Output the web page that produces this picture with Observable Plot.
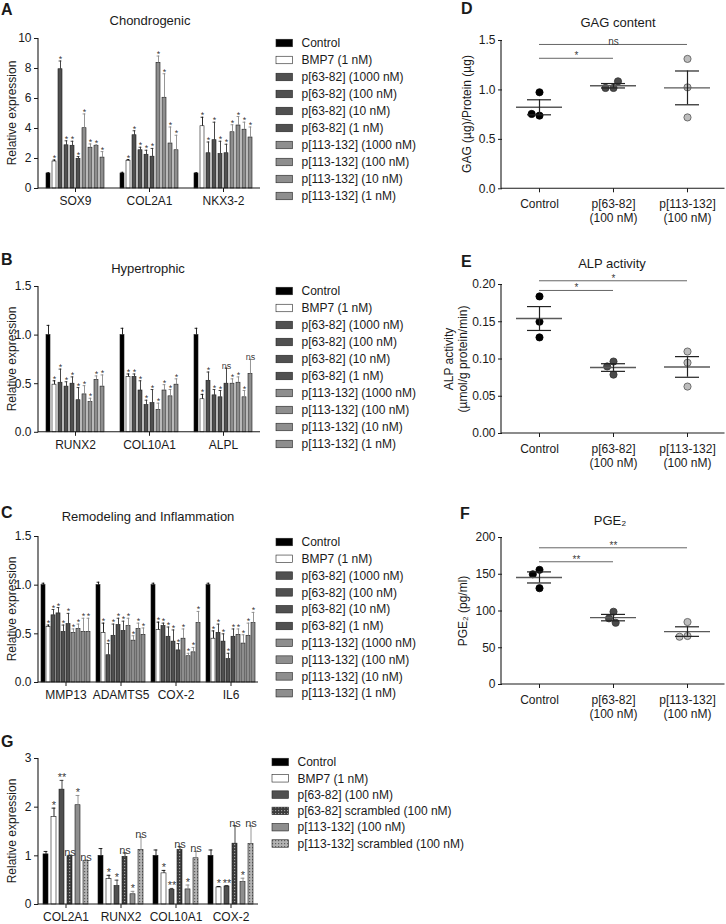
<!DOCTYPE html>
<html><head><meta charset="utf-8">
<script src="https://cdn.jsdelivr.net/npm/d3@7"></script>
<script src="https://cdn.jsdelivr.net/npm/@observablehq/plot@0.6"></script>
<style>
body{margin:0;background:#fff;}
#fig{position:relative;width:726px;height:924px;font-family:Arial,"Liberation Sans",Helvetica,sans-serif;color:#1a1a1a;overflow:hidden;background:#fff}
.letter{position:absolute;font-weight:bold;font-size:16px;line-height:1}
.title{position:absolute;font-size:13px;transform:translate(-50%,-50%);white-space:nowrap;line-height:1}
.ylab{position:absolute;font-size:12px;transform:translate(-50%,-50%) rotate(-90deg);white-space:pre;line-height:14px;text-align:center}
</style></head><body><div id="fig"></div>
<script>
// ---------------- DATA ----------------
const seriesDose = ["Control","BMP7 (1 nM)","p[63-82] (1000 nM)","p[63-82] (100 nM)","p[63-82] (10 nM)","p[63-82] (1 nM)","p[113-132] (1000 nM)","p[113-132] (100 nM)","p[113-132] (10 nM)","p[113-132] (1 nM)"];

const genesA = ["SOX9","COL2A1","NKX3-2"];
const valuesA = [
  [1.0, 1.80, 7.95, 2.88, 2.85, 1.98, 4.02, 2.72, 2.83, 2.06],
  [1.0, 1.85, 3.55, 2.55, 2.25, 2.12, 8.38, 6.05, 3.00, 2.55],
  [1.0, 4.15, 2.35, 3.22, 2.30, 2.35, 3.75, 4.20, 3.92, 3.40]
];
const errorsA = [
  [0.05, 0.10, 0.55, 0.30, 0.30, 0.15, 0.95, 0.25, 0.08, 0.40],
  [0.08, 0.08, 0.30, 0.20, 0.30, 0.55, 0.45, 1.60, 1.10, 1.00],
  [0.05, 0.60, 0.75, 1.20, 0.85, 0.60, 0.50, 0.60, 0.50, 0.70]
];
const sigA = [
  ["","*","*","*","*","*","*","*","*","*"],
  ["","*","*","*","*","*","*","*","*","*"],
  ["","*","*","*","*","*","*","*","*","*"]
];

const genesB = ["RUNX2","COL10A1","ALPL"];
const valuesB = [
  [1.0, 0.49, 0.51, 0.47, 0.50, 0.33, 0.39, 0.31, 0.54, 0.47],
  [1.0, 0.57, 0.57, 0.43, 0.28, 0.30, 0.23, 0.43, 0.37, 0.49],
  [1.0, 0.34, 0.53, 0.38, 0.36, 0.50, 0.50, 0.51, 0.36, 0.60]
];
const errorsB = [
  [0.10, 0.04, 0.14, 0.05, 0.07, 0.13, 0.09, 0.04, 0.04, 0.12],
  [0.07, 0.03, 0.03, 0.10, 0.05, 0.14, 0.07, 0.06, 0.07, 0.06],
  [0.07, 0.05, 0.09, 0.06, 0.07, 0.16, 0.05, 0.06, 0.07, 0.15]
];
const sigB = [
  ["","*","*","*","*","*","*","*","*","*"],
  ["","*","*","*","*","*","*","*","*","*"],
  ["","*","*","*","*","ns","*","*","*","ns"]
];

const genesC = ["MMP13","ADAMTS5","COX-2","IL6"];
const valuesC = [
  [1.0, 0.57, 0.69, 0.71, 0.52, 0.60, 0.51, 0.55, 0.52, 0.52],
  [1.0, 0.51, 0.28, 0.48, 0.59, 0.53, 0.58, 0.43, 0.55, 0.49],
  [1.0, 0.54, 0.58, 0.47, 0.42, 0.33, 0.45, 0.27, 0.31, 0.61],
  [1.0, 0.45, 0.51, 0.42, 0.24, 0.47, 0.49, 0.40, 0.48, 0.61]
];
const errorsC = [
  [0.02, 0.02, 0.06, 0.06, 0.07, 0.11, 0.04, 0.05, 0.14, 0.14],
  [0.03, 0.10, 0.12, 0.12, 0.07, 0.10, 0.08, 0.05, 0.06, 0.07],
  [0.02, 0.08, 0.03, 0.10, 0.12, 0.07, 0.10, 0.03, 0.05, 0.12],
  [0.02, 0.08, 0.09, 0.08, 0.06, 0.08, 0.06, 0.09, 0.13, 0.11]
];
const sigC = [
  ["","*","*","*","*","*","*","*","*","*"],
  ["","*","*","*","*","*","*","*","*","*"],
  ["","*","*","*","*","*","*","*","*","*"],
  ["","*","*","*","*","*","*","*","*","*"]
];

const seriesG = ["Control","BMP7 (1 nM)","p[63-82] (100 nM)","p[63-82] scrambled (100 nM)","p[113-132] (100 nM)","p[113-132] scrambled (100 nM)"];
const genesG = ["COL2A1","RUNX2","COL10A1","COX-2"];
const valuesG = [
  [1.03, 1.80, 2.36, 0.99, 2.04, 0.89],
  [1.00, 0.52, 0.38, 0.98, 0.21, 1.12],
  [1.00, 0.64, 0.30, 1.12, 0.31, 0.95],
  [1.00, 0.35, 0.37, 1.25, 0.46, 1.24]
];
const errorsG = [
  [0.06, 0.18, 0.19, 0.02, 0.20, 0.02],
  [0.15, 0.08, 0.12, 0.08, 0.06, 0.27],
  [0.12, 0.06, 0.03, 0.07, 0.09, 0.14],
  [0.12, 0.02, 0.02, 0.37, 0.08, 0.38]
];
const sigG = [
  ["","*","**","ns","*","ns"],
  ["","*","*","ns","*","ns"],
  ["","*","**","ns","*","ns"],
  ["","*","**","ns","*","ns"]
];

const groupsDEF = ["Control","p[63-82]\n(100 nM)","p[113-132]\n(100 nM)"];
const pointsD = [[0.976, 0.74, 0.757],[1.02, 1.02, 1.087],[1.314, 1.026, 0.722]];
const pointsE = [[0.184, 0.150, 0.129],[0.0966, 0.090, 0.079],[0.110, 0.095, 0.063]];
const pointsF = [[156, 150, 131],[99, 90, 84],[85, 66, 65]];
const sigSpan = [1, 2];
const sigYD = [1.32, 1.46], sigLabelD = ["*","ns"];
const sigYE = [0.192, 0.205], sigLabelE = ["*","*"];
const sigYF = [167, 186], sigLabelF = ["**","**"];

// ---------------- STYLE ----------------
const FONT = 'Arial, "Liberation Sans", Helvetica, sans-serif';
const fig = document.getElementById("fig");
const defs = d3.select(fig).append("svg").attr("width",0).attr("height",0)
  .style("position","absolute").style("left","0").style("top","0").append("defs");
function dotPattern(id, bg, fg) {
  const p = defs.append("pattern").attr("id", id).attr("patternUnits","userSpaceOnUse").attr("width",3).attr("height",3);
  p.append("rect").attr("width",3).attr("height",3).attr("fill",bg);
  p.append("rect").attr("width",1.2).attr("height",1.2).attr("fill",fg);
}
dotPattern("scr63", "#3b3b3b", "#a0a0a0");
dotPattern("scr113", "#b3b3b3", "#5e5e5e");

function seriesFill(s) {
  if (s === "Control") return "#000";
  if (s.startsWith("BMP7")) return "#fff";
  if (s.includes("scrambled")) return s.startsWith("p[63") ? "url(#scr63)" : "url(#scr113)";
  if (s.startsWith("p[63")) return "#505050";
  return "#8e8e8e";
}
function errColor(s) {
  if (s === "Control" || s.startsWith("BMP7")) return "#111";
  if (s.startsWith("p[63")) return "#333";
  return "#8a8a8a";
}
const groupFill = ["#000", "#4a4a4a", "#bdbdbd"];
const groupStroke = ["#000", "#333", "#555"];

function place(node, left, top) {
  node.style.position = "absolute"; node.style.left = left + "px"; node.style.top = top + "px";
  fig.appendChild(node); return node;
}
function axisLines(svg) {
  const [yb, yt] = svg.scale("y").range;
  const [xl, xr] = svg.scale("fx").range;
  const g = d3.select(svg).append("g").attr("stroke","#1a1a1a").attr("stroke-width",1.1).attr("fill","none");
  g.append("line").attr("x1",xl).attr("x2",xl).attr("y1",yb + 0.5).attr("y2",yt);
  g.append("line").attr("x1",xl).attr("x2",xr).attr("y1",yb).attr("y2",yb);
}
const baseStyle = {fontFamily: FONT, fontSize: "12px", color: "#1a1a1a", background: "transparent", overflow: "visible"};

function barPanel(o) {
  const rows = [];
  o.genes.forEach((g, gi) => o.series.forEach((s, si) => rows.push({
    gene: g, series: s, value: o.values[gi][si], top: o.values[gi][si] + o.errors[gi][si], sig: o.sigs[gi][si]
  })));
  const mb = o.marginBottom ?? 30;
  const svg = Plot.plot({
    width: 262, height: 10 + o.frameH + mb,
    marginLeft: 38, marginRight: 262 - o.frameRight, marginTop: 10, marginBottom: mb,
    style: baseStyle,
    fx: {domain: o.genes, padding: 0, label: null},
    x: {domain: o.series, axis: null, paddingInner: o.pi, paddingOuter: o.po},
    y: {domain: o.yDomain, ticks: o.yTicks, tickFormat: o.yFormat, tickSize: 4, tickPadding: 3, label: null},
    color: {type: "identity"},
    marks: [
      Plot.axisFx({anchor: "bottom", label: null, tickSize: 4, tickPadding: 4}),
      Plot.barY(rows, {fx: "gene", x: "series", y: "value", fill: d => seriesFill(d.series), stroke: "#1a1a1a", strokeWidth: 0.6}),
      Plot.ruleX(rows, {fx: "gene", x: "series", y1: "value", y2: "top", stroke: d => errColor(d.series), strokeWidth: 0.9}),
      Plot.tickY(rows, {fx: "gene", x: "series", y: "top", stroke: d => errColor(d.series), strokeWidth: 0.9, insetLeft: 0.6, insetRight: 0.6}),
      Plot.text(rows, {fx: "gene", x: "series", y: "top", text: "sig", dy: o.sigDy, lineAnchor: "bottom", fontSize: o.sigSize, fill: "#333", fillOpacity: 0.99})
    ]
  });
  axisLines(svg);
  place(svg, 0, o.top);
  html("ylab", "Relative expression", 12, o.top + 10 + o.frameH / 2);
}

function dotPanel(o) {
  const pts = [];
  o.groups.forEach((g, gi) => o.points[gi].forEach(v => pts.push({group: g, gi, value: v})));
  const stats = o.groups.map((g, gi) => {
    const v = o.points[gi], m = d3.mean(v), se = d3.deviation(v) / Math.sqrt(v.length);
    return {group: g, mean: m, lo: m - se, hi: m + se};
  });
  const sig = o.sigY.map((y, i) => ({from: o.groups[0], span: sigSpan[i], y, label: o.sigLabel[i]}));
  const svg = Plot.plot({
    width: 286, height: 10 + o.frameH + 40,
    marginLeft: 61, marginRight: 1.5, marginTop: 10, marginBottom: 40,
    style: baseStyle,
    fx: {domain: o.groups, padding: 0, label: null},
    x: {domain: [-0.5, 0.5], axis: null},
    y: {domain: o.yDomain, ticks: o.yTicks, tickFormat: o.yFormat, tickSize: 4, tickPadding: 3, label: null},
    color: {type: "identity"},
    marks: [
      Plot.axisFx({anchor: "bottom", label: null, tickSize: 4, tickPadding: 5, lineHeight: 1.2}),
      Plot.ruleY(sig, {fx: "from", y: "y", x1: () => 0, x2: "span", stroke: "#555", strokeWidth: 0.9}),
      Plot.text(sig, {fx: "from", x: d => d.span / 2, y: "y", text: "label", dy: 1, lineAnchor: "bottom", fontSize: 10, fill: "#333", fillOpacity: 0.99}),
      Plot.dot(pts, Plot.dodgeX({anchor: "middle", padding: 0.8}, {fx: "group", y: "value", r: 3.6,
        fill: d => groupFill[d.gi], stroke: d => groupStroke[d.gi], strokeWidth: 0.8})),
      Plot.tickY(stats, {fx: "group", y: "mean", insetLeft: 14, insetRight: 14, stroke: "#5a5a5a", strokeWidth: 1.4}),
      Plot.ruleX(stats, {fx: "group", x: () => 0, y1: "lo", y2: "hi", stroke: "#222", strokeWidth: 1.2}),
      Plot.tickY(stats, {fx: "group", y: "lo", insetLeft: 25, insetRight: 25, stroke: "#222", strokeWidth: 1.2}),
      Plot.tickY(stats, {fx: "group", y: "hi", insetLeft: 25, insetRight: 25, stroke: "#222", strokeWidth: 1.2})
    ]
  });
  axisLines(svg);
  place(svg, 440, o.top);
  html("ylab", o.label, o.labelX, o.top + 10 + o.frameH / 2);
}

function legend(left, top, step, items) {
  const svg = d3.create("svg").attr("width", 200).attr("height", step * items.length + 6)
    .style("font-family", FONT).style("font-size", "12px").style("overflow", "visible");
  items.forEach((s, i) => {
    const cy = 3 + i * step;
    svg.append("rect").attr("x", 0).attr("y", cy - 3.75).attr("width", 16.5).attr("height", 7.5)
      .attr("fill", seriesFill(s)).attr("stroke", "#222").attr("stroke-width", 0.6);
    svg.append("text").attr("x", 25.5).attr("y", cy).attr("dy", "0.35em").attr("fill", "#1a1a1a").text(s);
  });
  place(svg.node(), left, top - 3);
}
function html(cls, text, left, top) {
  const d = document.createElement("div"); d.className = cls; d.textContent = text;
  d.style.left = left + "px"; d.style.top = top + "px"; fig.appendChild(d);
}

// ---------------- PANELS ----------------
barPanel({top: 28, frameH: 150, frameRight: 260, genes: genesA, series: seriesDose, values: valuesA, errors: errorsA, sigs: sigA,
  pi: 0.28, po: 0.43, yDomain: [0, 10], yTicks: [0,2,4,6,8,10], yFormat: d3.format("d"), sigSize: 9, sigDy: 1});
barPanel({top: 275.7, frameH: 145.8, frameRight: 260, genes: genesB, series: seriesDose, values: valuesB, errors: errorsB, sigs: sigB,
  pi: 0.28, po: 0.43, yDomain: [0, 1.5], yTicks: [0, 0.5, 1, 1.5], yFormat: d3.format(".1f"), sigSize: 9, sigDy: 1});
barPanel({top: 526, frameH: 146, frameRight: 258, genes: genesC, series: seriesDose, values: valuesC, errors: errorsC, sigs: sigC,
  pi: 0.3, po: 0.44, yDomain: [0, 1.5], yTicks: [0, 0.5, 1, 1.5], yFormat: d3.format(".1f"), sigSize: 9, sigDy: 1});
barPanel({top: 748, frameH: 146, frameRight: 258, marginBottom: 22, genes: genesG, series: seriesG, values: valuesG, errors: errorsG, sigs: sigG,
  pi: 0.32, po: 0.43, yDomain: [0, 3], yTicks: [0, 1, 2, 3], yFormat: d3.format("d"), sigSize: 11, sigDy: 1});

dotPanel({top: 30, frameH: 148.3, groups: groupsDEF, points: pointsD, sigY: sigYD, sigLabel: sigLabelD,
  yDomain: [0, 1.5], yTicks: [0, 0.5, 1, 1.5], yFormat: d3.format(".1f"), label: "GAG (µg)/Protein (µg)", labelX: 467});
dotPanel({top: 274, frameH: 149, groups: groupsDEF, points: pointsE, sigY: sigYE, sigLabel: sigLabelE,
  yDomain: [0, 0.2], yTicks: [0, 0.05, 0.1, 0.15, 0.2], yFormat: d3.format(".2f"), label: "ALP activity\n(µmol/g protein/min)", labelX: 456});
dotPanel({top: 527, frameH: 147, groups: groupsDEF, points: pointsF, sigY: sigYF, sigLabel: sigLabelF,
  yDomain: [0, 200], yTicks: [0, 50, 100, 150, 200], yFormat: d3.format("d"), label: "PGE₂ (pg/ml)", labelX: 463});

legend(276, 43, 17, seriesDose);
legend(276, 291, 17, seriesDose);
legend(276, 542, 16.8, seriesDose);
legend(272, 762, 16.3, seriesG);

html("letter", "A", 1, 2);
html("letter", "B", 1, 252);
html("letter", "C", 1, 505);
html("letter", "G", 1, 734);
html("letter", "D", 461, 1);
html("letter", "E", 461, 254);
html("letter", "F", 460, 506);
html("title", "Chondrogenic", 150, 20);
html("title", "Hypertrophic", 148, 268);
html("title", "Remodeling and Inflammation", 148, 516);
html("title", "GAG content", 618, 22);
html("title", "ALP activity", 612, 263);
html("title", "PGE₂", 610, 520);
</script></body></html>
